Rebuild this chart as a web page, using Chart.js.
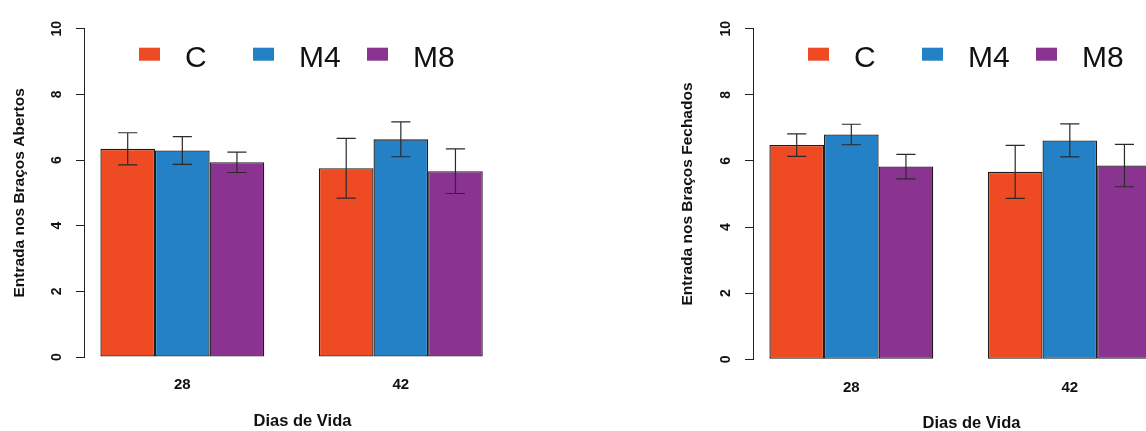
<!DOCTYPE html>
<html>
<head>
<meta charset="utf-8">
<script src="https://cdn.jsdelivr.net/npm/chart.js@4/dist/chart.umd.min.js"></script>
<style>
    html, body { margin: 0; padding: 0; background: #fff; overflow: hidden; width: 1146px; height: 431px; }
    .panel { position: absolute; top: 0; }
</style>
</head>
<body>
<div class="panel" style="left: 0px"><canvas id="abertos" width="573" height="431"></canvas></div>
<div class="panel" style="left: 669px"><canvas id="fechados" width="573" height="433"></canvas></div>
<script>
const days = [28, 42];
const groups = ["C", "M4", "M8"];
const yTicks = [0, 2, 4, 6, 8, 10];

// open arms
const abertosC = [6.34, 5.75];
const abertosM4 = [6.29, 6.63];
const abertosM8 = [5.93, 5.66];
const abertosErrC = [0.49, 0.91];
const abertosErrM4 = [0.42, 0.53];
const abertosErrM8 = [0.31, 0.68];

// closed arms
const fechadosC = [6.48, 5.67];
const fechadosM4 = [6.80, 6.62];
const fechadosM8 = [5.83, 5.86];
const fechadosErrC = [0.34, 0.80];
const fechadosErrM4 = [0.31, 0.50];
const fechadosErrM8 = [0.37, 0.64];

const colors = ["#EE4A24", "#2581C5", "#8B3391"];
const fontFamily = "'Liberation Sans', Arial, Helvetica, sans-serif";

// error bars drawn from the dataset means and errors through the y scale
const errorBars = {
    id: "errorBars",
    afterDatasetsDraw(chart) {
        const ctx = chart.ctx;
        const yScale = chart.scales.y;
        ctx.save();
        ctx.strokeStyle = "#2a2a2a";
        ctx.lineWidth = 1.2;
        chart.data.datasets.forEach((ds, di) => {
            const meta = chart.getDatasetMeta(di);
            meta.data.forEach((bar, i) => {
                const mean = ds.data[i].y;
                const err = ds.errors[i];
                const yTop = yScale.getPixelForValue(mean + err);
                const yBot = yScale.getPixelForValue(mean - err);
                const half = bar.width * 0.175;
                ctx.beginPath();
                ctx.moveTo(bar.x, yTop);
                ctx.lineTo(bar.x, yBot);
                ctx.moveTo(bar.x - half, yTop);
                ctx.lineTo(bar.x + half, yTop);
                ctx.moveTo(bar.x - half, yBot);
                ctx.lineTo(bar.x + half, yBot);
                ctx.stroke();
            });
        });
        ctx.restore();
    },
};

// R style legend inside the plot region
const insideLegend = {
    id: "insideLegend",
    afterDraw(chart) {
        const ctx = chart.ctx;
        const area = chart.chartArea;
        ctx.save();
        ctx.font = "30px " + fontFamily;
        ctx.textAlign = "left";
        ctx.textBaseline = "alphabetic";
        chart.data.datasets.forEach((ds, i) => {
            const x = area.left + 55 + i * 114;
            ctx.fillStyle = ds.backgroundColor;
            ctx.fillRect(x, area.top + 19, 21, 13);
            ctx.fillStyle = "#111";
            ctx.fillText(ds.label, x + 46, area.top + 38.5);
        });
        ctx.restore();
    },
};

function makeDataset(label, color, means, errors) {
    return {
        label: label,
        data: days.map((d, i) => ({ x: d, y: means[i] })),
        errors: errors,
        backgroundColor: color,
        borderColor: "#1c1c1c",
        borderWidth: 1.3,
        borderSkipped: false,
        categoryPercentage: 0.75,
        barPercentage: 1,
    };
}

function makeChart(id, yTitle, means, errors, xHeight, titlePad) {
    const ctx = document.getElementById(id).getContext("2d");
    return new Chart(ctx, {
        type: "bar",
        data: {
            datasets: groups.map((g, i) => makeDataset(g, colors[i], means[i], errors[i])),
        },
        options: {
            responsive: false,
            animation: false,
            events: [],
            layout: { padding: { top: 28.7, left: 0, right: 52, bottom: 0 } },
            plugins: {
                legend: { display: false },
                tooltip: { enabled: false },
            },
            scales: {
                x: {
                    type: "linear",
                    min: 21.7,
                    max: 49.7,
                    offset: false,
                    afterBuildTicks: (scale) => {
                        scale.ticks = days.map((v) => ({ value: v }));
                    },
                    afterFit: (scale) => {
                        scale.height = xHeight;
                    },
                    grid: { display: false, drawTicks: false },
                    border: { display: false },
                    ticks: {
                        padding: 19.2,
                        maxRotation: 0,
                        color: "#111",
                        font: { family: fontFamily, size: 15, weight: "bold" },
                        callback: (v) => String(v),
                    },
                    title: {
                        display: true,
                        text: "Dias de Vida",
                        color: "#111",
                        padding: { top: 0, bottom: 0 },
                        font: { family: fontFamily, size: 16.5, weight: "bold" },
                    },
                },
                y: {
                    min: 0,
                    max: 10,
                    afterBuildTicks: (scale) => {
                        scale.ticks = yTicks.map((v) => ({ value: v }));
                    },
                    afterFit: (scale) => {
                        scale.width = 84;
                    },
                    grid: {
                        drawOnChartArea: false,
                        drawTicks: true,
                        tickLength: 8,
                        color: "#222",
                        lineWidth: 1,
                    },
                    border: { display: true, color: "#222", width: 1 },
                    ticks: {
                        minRotation: 90,
                        maxRotation: 90,
                        crossAlign: "center",
                        padding: 11,
                        color: "#111",
                        font: { family: fontFamily, size: 14, weight: "bold" },
                    },
                    title: {
                        display: true,
                        text: yTitle,
                        color: "#111",
                        padding: { top: titlePad, bottom: 0 },
                        font: { family: fontFamily, size: 15.5, weight: "bold" },
                    },
                },
            },
        },
        plugins: [errorBars, insideLegend],
    });
}

makeChart(
    "abertos",
    "Entrada nos Braços Abertos",
    [abertosC, abertosM4, abertosM8],
    [abertosErrC, abertosErrM4, abertosErrM8],
    74,
    10.5
);
makeChart(
    "fechados",
    "Entrada nos Braços Fechados",
    [fechadosC, fechadosM4, fechadosM8],
    [fechadosErrC, fechadosErrM4, fechadosErrM8],
    73.7,
    9.5
);
</script>
</body>
</html>
